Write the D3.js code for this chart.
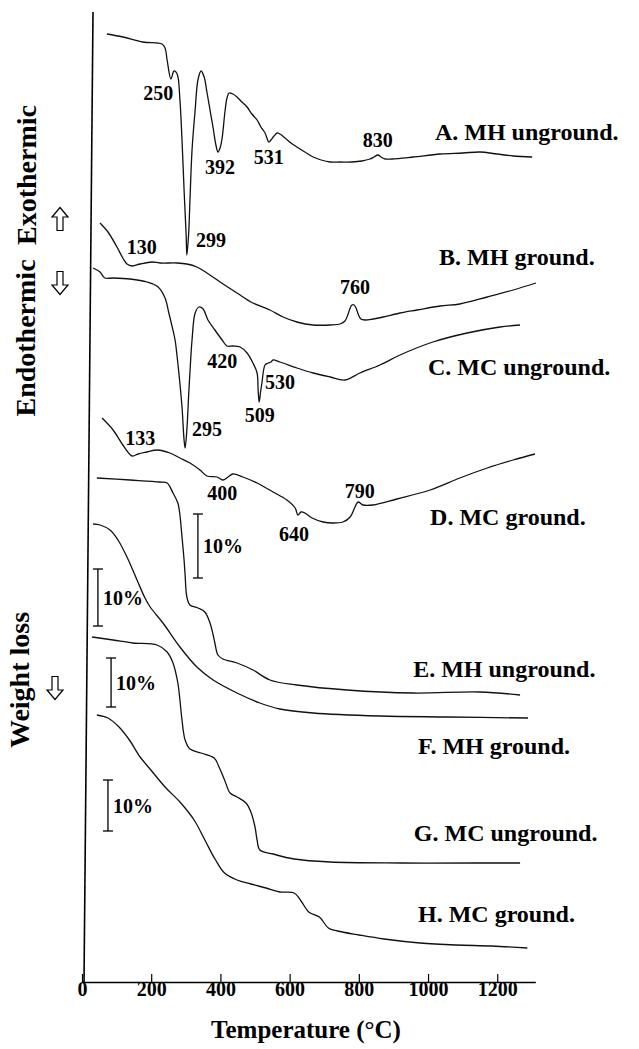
<!DOCTYPE html>
<html>
<head>
<meta charset="utf-8">
<script src="https://cdn.jsdelivr.net/npm/d3@7"></script>
<style>
  body { margin: 0; background: #fff; }
  svg { display: block; }
  text { font-family: "Liberation Serif", "Times New Roman", serif; font-weight: bold; fill: #000; }
</style>
</head>
<body>
<div id="wrapper"></div>
<script>
// temperature (°C) vs signal (arbitrary units, curves are stacked with offsets)
const xTicks = [0, 200, 400, 600, 800, 1000, 1200];

// DTA traces
const dtaMhUnground = [[72,948],[118,945],[176,940],[231,938],[240,934],[246,922],[257,903],[266,911],[275,908],[283,882],[289,842],[295,792],[301,747],[303,727],[308,747],[312,782],[318,832],[327,872],[335,902],[344,911],[353,905],[361,890],[370,872],[379,854],[387,837],[393,830],[399,834],[405,844],[413,870],[419,884],[425,889],[436,888],[448,885],[462,880],[477,875],[491,868],[506,862],[517,855],[529,849],[540,840],[546,842],[555,846],[564,849],[572,848],[587,844],[604,839],[621,835],[644,830],[668,825],[691,822],[717,820],[746,820],[780,820],[809,821],[832,823],[844,825],[855,827],[864,825],[876,823],[896,823],[957,825],[1035,828],[1101,829],[1150,830],[1199,828],[1246,826],[1301,825]];
const dtaMhGround = [[52,759],[75,750],[101,735],[118,724],[130,718],[145,716],[168,718],[202,720],[225,719],[275,719],[303,718],[332,715],[361,709],[399,700],[448,689],[494,679],[543,672],[581,665],[621,660],[668,657],[717,657],[746,658],[760,661],[769,668],[775,674],[780,677],[786,677],[792,674],[798,668],[806,663],[818,662],[841,663],[870,665],[919,669],[968,672],[1035,676],[1092,678],[1171,685],[1246,692],[1312,699]];
const dtaMcUnground = [[32,714],[52,710],[66,704],[90,704],[139,703],[188,700],[220,695],[240,684],[251,669],[260,656],[269,642],[275,625],[280,609],[289,575],[295,542],[298,534],[303,552],[309,592],[314,622],[318,642],[327,669],[338,675],[350,673],[364,662],[384,652],[405,642],[419,636],[436,636],[457,635],[477,629],[494,619],[506,609],[509,592],[512,580],[516,590],[520,599],[529,617],[538,619],[546,620],[552,622],[572,620],[621,614],[668,609],[717,605],[760,602],[803,609],[861,617],[919,627],[1014,640],[1113,649],[1208,655],[1266,657]];
const dtaMcGround = [[58,564],[90,552],[118,537],[145,526],[162,528],[188,530],[217,532],[254,529],[283,524],[312,519],[341,512],[361,506],[390,505],[407,502],[422,505],[436,508],[465,505],[506,499],[552,490],[592,482],[616,474],[624,467],[633,470],[644,469],[665,464],[697,460],[725,459],[754,460],[775,465],[789,475],[798,480],[812,477],[841,477],[910,483],[1006,492],[1092,504],[1171,514],[1246,522],[1309,528]];

// TG traces
const tgMhUnground = [[43,504],[139,502],[225,500],[246,499],[263,489],[277,479],[283,467],[289,445],[295,422],[298,407],[303,385],[312,377],[335,374],[355,370],[370,359],[379,347],[384,339],[393,327],[407,323],[448,319],[494,312],[543,302],[621,297],[766,292],[957,289],[1150,290],[1266,287]];
const tgMhGround = [[32,458],[52,457],[81,452],[104,442],[130,425],[159,402],[182,384],[197,375],[234,359],[283,335],[332,315],[379,302],[448,289],[514,279],[572,273],[668,269],[861,266],[1055,265],[1289,264]];
const tgMcUnground = [[29,345],[90,342],[147,339],[217,337],[246,330],[263,319],[277,299],[283,282],[289,262],[298,242],[312,233],[344,229],[382,224],[396,215],[412,202],[428,189],[448,185],[474,179],[488,170],[500,155],[506,142],[514,132],[552,128],[613,123],[717,120],[925,119],[1133,119],[1266,119]];
const tgMcGround = [[43,267],[75,264],[107,255],[137,242],[168,225],[199,212],[240,195],[283,180],[324,162],[355,142],[386,122],[412,109],[448,102],[488,98],[532,94],[572,90],[613,89],[635,80],[655,70],[686,65],[712,54],[738,51],[801,47],[873,43],[977,39],[1081,37],[1185,36],[1287,34]];

// curve names and where their names sit [T, signal]
const curveNames = ["A. MH unground.", "B. MH ground.", "C. MC unground.", "D. MC ground.",
                    "E. MH unground.", "F. MH ground.", "G. MC unground.", "H. MC ground."];
const curveNamePos = [[1020,842],[1032,717],[1000,607],[1006,457],[957,305],[971,228],[959,141],[971,60]];

// peak temperatures [label, T, signal]
const peakLabels = [["250",220,882],["299",373,735],["392",399,808],["531",540,818],["830",855,835],
                    ["130",173,728],["760",789,688],
                    ["420",405,614],["530",572,593],["509",514,560],["295",361,546],
                    ["133",168,537],["400",405,482],["790",803,484],["640",613,441]];

// 10% weight scale bars [T, bottom signal, top signal]
const scaleBars = [[335,404,468],[46,356,413],[84,275,324],[75,151,202]];

const dimensions = {
  width: 639,
  height: 1049,
  axisY: 982,
  top: 12,
  left: 82,
  right: 535.3,
};

const xScale = d3.scaleLinear()
  .domain([0, 1310])
  .range([dimensions.left, dimensions.right]);

const yScale = d3.scaleLinear()
  .domain([0, 970])
  .range([dimensions.axisY, dimensions.top]);

const traces = [dtaMhUnground, dtaMhGround, dtaMcUnground, dtaMcGround,
                tgMhUnground, tgMhGround, tgMcUnground, tgMcGround];

const svg = d3.select("#wrapper")
  .append("svg")
  .attr("width", dimensions.width)
  .attr("height", dimensions.height);

const lineGenerator = d3.line()
  .x(d => xScale(d[0]))
  .y(d => yScale(d[1]))
  .curve(d3.curveCatmullRom.alpha(0.5));

svg.append("g")
  .selectAll("path")
  .data(traces)
  .join("path")
  .attr("d", lineGenerator)
  .attr("fill", "none")
  .attr("stroke", "#111")
  .attr("stroke-width", 1.3);

// x axis, ticks pointing inward
const xAxisGenerator = d3.axisBottom(xScale)
  .tickValues(xTicks)
  .tickSizeInner(-8)
  .tickSizeOuter(0)
  .tickFormat(d3.format("d"));

const xAxis = svg.append("g")
  .attr("transform", `translate(0, ${dimensions.axisY})`)
  .call(xAxisGenerator);

xAxis.select(".domain").attr("stroke", "#000").attr("stroke-width", 1.6);
xAxis.selectAll(".tick line").attr("stroke", "#000").attr("stroke-width", 1.2);
xAxis.selectAll(".tick text")
  .attr("y", 14)
  .attr("dy", null)
  .attr("fill", "#000")
  .style("font-family", '"Liberation Serif", serif')
  .style("font-weight", "bold")
  .style("font-size", "20px");

svg.append("text")
  .attr("x", 306)
  .attr("y", 1038)
  .attr("text-anchor", "middle")
  .style("font-size", "25px")
  .text("Temperature (°C)");

// left frame line (slightly tilted in the scan)
svg.append("line")
  .attr("x1", xScale(0) + 11)
  .attr("y1", yScale(970))
  .attr("x2", xScale(0) + 2)
  .attr("y2", yScale(0))
  .attr("stroke", "#000")
  .attr("stroke-width", 1.6);

// curve names
svg.append("g")
  .selectAll("text")
  .data(curveNames)
  .join("text")
  .attr("x", (d, i) => xScale(curveNamePos[i][0]))
  .attr("y", (d, i) => yScale(curveNamePos[i][1]))
  .style("font-size", "24px")
  .text(d => d);

// peak labels
svg.append("g")
  .selectAll("text")
  .data(peakLabels)
  .join("text")
  .attr("x", d => xScale(d[1]))
  .attr("y", d => yScale(d[2]))
  .attr("text-anchor", "middle")
  .style("font-size", "20px")
  .text(d => d[0]);

// 10% scale bars
const bars = svg.append("g")
  .selectAll("g")
  .data(scaleBars)
  .join("g")
  .attr("stroke", "#000")
  .attr("stroke-width", 1.3);

bars.append("line")
  .attr("x1", d => xScale(d[0])).attr("x2", d => xScale(d[0]))
  .attr("y1", d => yScale(d[1])).attr("y2", d => yScale(d[2]));
bars.append("line")
  .attr("x1", d => xScale(d[0]) - 5).attr("x2", d => xScale(d[0]) + 5)
  .attr("y1", d => yScale(d[1])).attr("y2", d => yScale(d[1]));
bars.append("line")
  .attr("x1", d => xScale(d[0]) - 5).attr("x2", d => xScale(d[0]) + 5)
  .attr("y1", d => yScale(d[2])).attr("y2", d => yScale(d[2]));
bars.append("text")
  .attr("x", d => xScale(d[0]) + 5)
  .attr("y", d => yScale((d[1] + d[2]) / 2) + 7)
  .attr("stroke", "none")
  .style("font-size", "20px")
  .text("10%");

// side labels
const sideLabels = [["Exothermic", 36, 175], ["Endothermic", 35, 338], ["Weight loss", 29, 680]];
svg.append("g")
  .selectAll("text")
  .data(sideLabels)
  .join("text")
  .attr("transform", d => `translate(${d[1]}, ${d[2]}) rotate(-90)`)
  .attr("text-anchor", "middle")
  .style("font-size", "28px")
  .text(d => d[0]);

// hollow arrows
const arrowPath = "M0,-11.5 L8,-2 L3,-2 L3,11.5 L-3,11.5 L-3,-2 L-8,-2 Z";
const arrows = [[60, 219, 0], [60, 283, 180], [55, 688, 180]];
svg.append("g")
  .selectAll("path")
  .data(arrows)
  .join("path")
  .attr("d", arrowPath)
  .attr("transform", d => `translate(${d[0]}, ${d[1]}) rotate(${d[2]})`)
  .attr("fill", "#fff")
  .attr("stroke", "#000")
  .attr("stroke-width", 1.2);
</script>
</body>
</html>
